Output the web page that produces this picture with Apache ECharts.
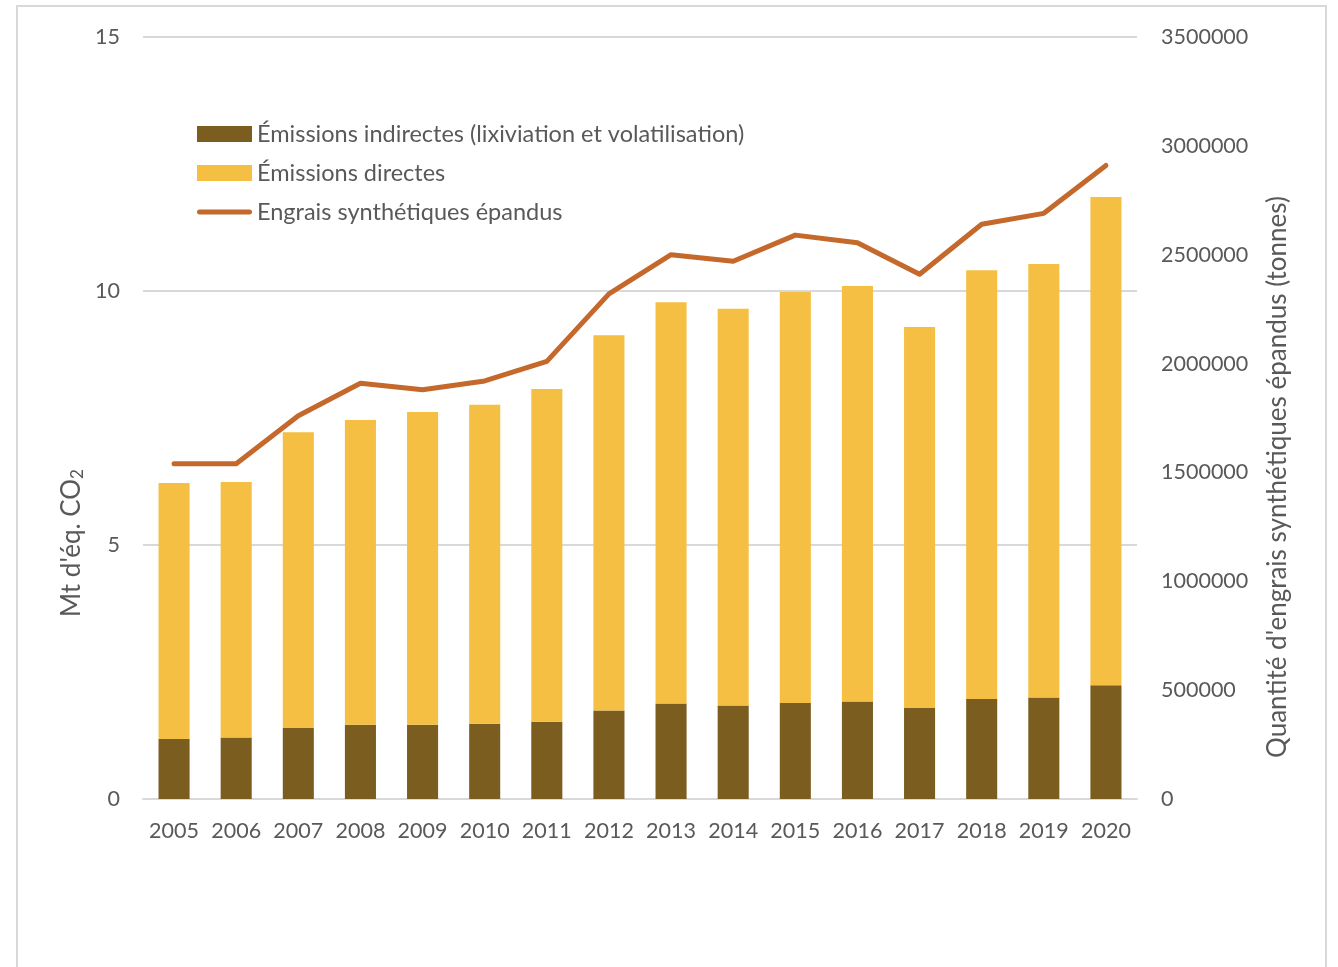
<!DOCTYPE html>
<html>
<head>
<meta charset="utf-8">
<script src="https://cdn.jsdelivr.net/npm/echarts@6/dist/echarts.min.js"></script>
<style>
  html, body { margin: 0; padding: 0; background: #ffffff; }
  #frame { position: absolute; left: 16px; top: 5px; width: 1311px; height: 1000px;
           border: 2px solid #d9d9d9; border-bottom: none; box-sizing: border-box; }
  #chart { position: absolute; left: 0; top: 0; width: 1338px; height: 967px; }
</style>
</head>
<body>
<div id="frame"></div>
<div id="chart"></div>
<script>
const years = ['2005','2006','2007','2008','2009','2010','2011','2012','2013','2014','2015','2016','2017','2018','2019','2020'];
const indirect = [1.18, 1.21, 1.40, 1.46, 1.46, 1.48, 1.52, 1.74, 1.88, 1.84, 1.89, 1.92, 1.79, 1.97, 2.00, 2.24];
const totalEmissions = [6.22, 6.24, 7.22, 7.46, 7.62, 7.76, 8.07, 9.13, 9.78, 9.65, 9.98, 10.10, 9.29, 10.41, 10.53, 11.85];
const direct = totalEmissions.map((t, i) => +(t - indirect[i]).toFixed(2));
const fertilizer = [1540000, 1540000, 1760000, 1910000, 1880000, 1920000, 2010000, 2320000, 2500000, 2470000, 2590000, 2555000, 2410000, 2640000, 2690000, 2910000];
const leftTicks = { min: 0, max: 15, interval: 5 };
const rightTicks = { min: 0, max: 3500000, interval: 500000 };

const FONT = 'Lato, "Open Sans", sans-serif';
const TXT = '#595959';
const TICK = 21.5;

const chart = echarts.init(document.getElementById('chart'));
chart.setOption({
  backgroundColor: 'transparent',
  animation: false,
  textStyle: { fontFamily: FONT },
  grid: { left: 143, right: 201, top: 37, bottom: 168, containLabel: false },
  legend: {
    orient: 'vertical', left: 197, top: 122, padding: 0, itemWidth: 55, itemHeight: 16, itemGap: 15,
    textStyle: { fontFamily: FONT, fontSize: 23.5, color: TXT },
    data: [
      { name: 'Émissions indirectes (lixiviation et volatilisation)', icon: 'rect' },
      { name: 'Émissions directes', icon: 'rect' },
      { name: 'Engrais synthétiques épandus', icon: 'path://M2.5,0 L52.5,0 A2.5,2.5 0 0 1 52.5,5 L2.5,5 A2.5,2.5 0 0 1 2.5,0 Z' }
    ]
  },
  graphic: [
    {
      type: 'text', x: 72, y: 543, rotation: Math.PI / 2,
      style: {
        text: '{a|Mt d\'éq. CO}{s|2}', align: 'center', verticalAlign: 'middle',
        rich: {
          a: { fontSize: 26, fill: TXT, fontFamily: FONT },
          s: { fontSize: 17, fill: TXT, fontFamily: FONT, padding: [12, 0, 0, 0] }
        }
      }
    },
    {
      type: 'text', x: 1278, y: 477, rotation: Math.PI / 2,
      style: {
        text: 'Quantité d\'engrais synthétiques épandus (tonnes)', align: 'center', verticalAlign: 'middle',
        fontSize: 26, fill: TXT, fontFamily: FONT
      }
    }
  ],
  xAxis: {
    type: 'category', data: years,
    axisLine: { lineStyle: { color: '#d9d9d9', width: 2 } },
    axisTick: { show: false },
    axisLabel: { color: TXT, fontSize: TICK, fontFamily: FONT, margin: 21, interval: 0, hideOverlap: false }
  },
  yAxis: [
    {
      type: 'value', min: leftTicks.min, max: leftTicks.max, interval: leftTicks.interval,
      axisLine: { show: false }, axisTick: { show: false },
      axisLabel: { color: TXT, fontSize: TICK, fontFamily: FONT, margin: 23 },
      splitLine: { lineStyle: { color: '#d9d9d9', width: 2 } }
    },
    {
      type: 'value', min: rightTicks.min, max: rightTicks.max, interval: rightTicks.interval,
      position: 'right',
      axisLine: { show: false }, axisTick: { show: false },
      axisLabel: { color: TXT, fontSize: TICK, fontFamily: FONT, margin: 24, formatter: v => String(v) },
      splitLine: { show: false }
    }
  ],
  series: [
    {
      name: 'Émissions indirectes (lixiviation et volatilisation)', type: 'bar', stack: 'em',
      data: indirect, barWidth: '50%', itemStyle: { color: '#7b5d20' }
    },
    {
      name: 'Émissions directes', type: 'bar', stack: 'em',
      data: direct, barWidth: '50%', itemStyle: { color: '#f5bf43' }
    },
    {
      name: 'Engrais synthétiques épandus', type: 'line', yAxisIndex: 1,
      data: fertilizer, symbol: 'none',
      lineStyle: { color: '#c4682b', width: 5, cap: 'round', join: 'round' },
      itemStyle: { color: '#c4682b' }
    }
  ]
});
</script>
</body>
</html>
